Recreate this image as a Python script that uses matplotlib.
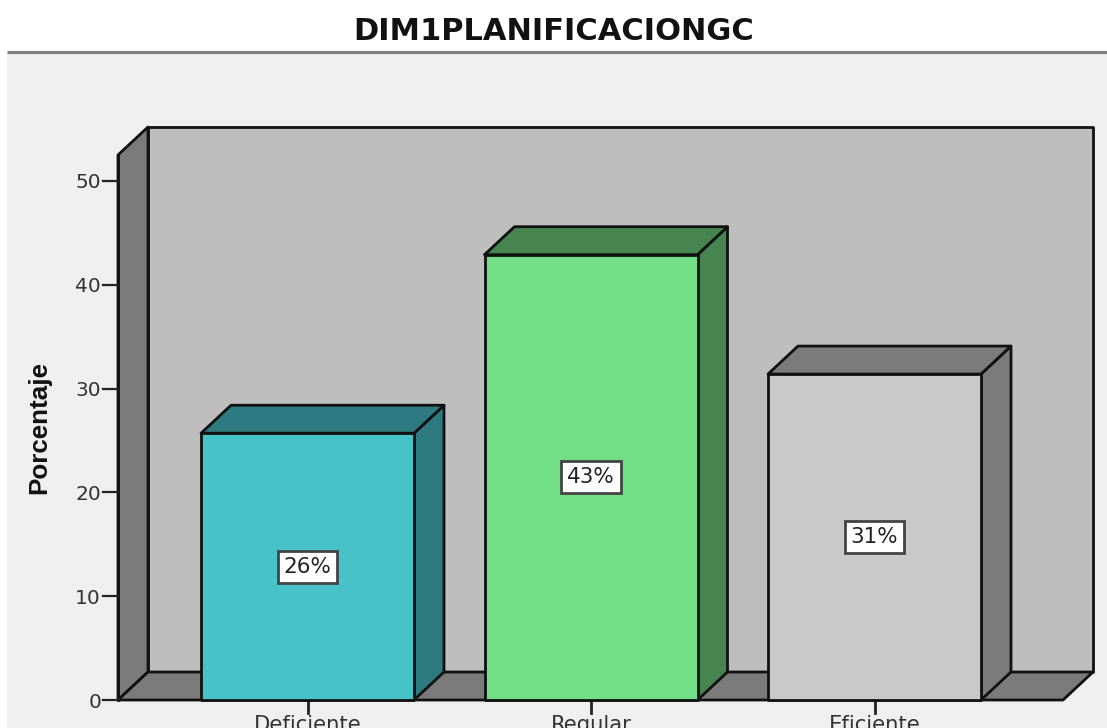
import matplotlib
matplotlib.use("Agg")
import matplotlib.pyplot as plt
from matplotlib.patches import Polygon, Rectangle

plt.rcParams['font.family'] = ['DejaVu Sans']

TITLE = "DIM1PLANIFICACIONGC"
categories = ["Deficiente", "Regular", "Eficiente"]
values = [25.7, 42.9, 31.4]
labels = ["26%", "43%", "31%"]
y_ticks = [0, 10, 20, 30, 40, 50]
front_colors = ["#48c2c9", "#72de86", "#c9c9c9"]
side_colors = ["#2d7a80", "#46854f", "#7b7b7b"]

W, H = 1107, 728
PX_X = 283.5      # pixels per category
PX_Y = 10.38      # pixels per value unit
X0_PX, Y0_PX = 307.5, 700
DX = 30 / PX_X
DY = 28 / PX_Y
BAR = 213 / PX_X

fig = plt.figure(figsize=(W / 100, H / 100), dpi=100, facecolor="white")
ax = fig.add_axes([0, 0, 1, 1])
xl = -X0_PX / PX_X
yb = -(H - Y0_PX) / PX_Y
ax.set_xlim(xl, xl + W / PX_X)
ax.set_ylim(yb, yb + H / PX_Y)
ax.axis("off")

def xp(px):
    return xl + px / PX_X
def yp(py):
    return (Y0_PX - py) / PX_Y

# panel background and header rule
ax.add_patch(Rectangle((xp(7), yb), (W - 7) / PX_X, (H - 52) / PX_Y, fc="#efefef", ec="none", zorder=0))
ax.plot([xp(7), xp(W)], [yp(52), yp(52)], color="#808080", lw=2.2, zorder=1, solid_capstyle="butt")
ax.text(xp(554), yp(31), TITLE, ha="center", va="center", fontsize=22, fontweight="bold", color="#111111")

# 3-D frame
lft, rgt = xp(118), xp(1063)
top = yp(155)
edge = dict(ec="#111111", lw=2.0, joinstyle="round")
ax.add_patch(Polygon([(lft + DX, DY), (rgt + DX, DY), (rgt + DX, top + DY), (lft + DX, top + DY)], fc="#bebebe", zorder=2, **edge))
ax.add_patch(Polygon([(lft, 0), (lft + DX, DY), (lft + DX, top + DY), (lft, top)], fc="#7b7b7b", zorder=3, **edge))
ax.add_patch(Polygon([(lft, 0), (rgt, 0), (rgt + DX, DY), (lft + DX, DY)], fc="#7b7b7b", zorder=3, **edge))

# y axis
ax.plot([lft, lft], [0, top], color="#111111", lw=2.0, zorder=4)
tick_len = 15 / PX_X
for t in y_ticks:
    ax.plot([lft - tick_len, lft], [t, t], color="#222222", lw=1.6, zorder=4)
    ax.text(xp(101), yp(Y0_PX - t * PX_Y + 2), str(t), ha="right", va="center", fontsize=14.5, color="#333333")
ax.text(xp(39), yp(428), "Porcentaje", rotation=90, ha="center", va="center", fontsize=18.7, fontweight="bold",
        family="Liberation Sans", color="#111111")

# bars
for i, (c, v, lb, fc, sc) in enumerate(zip(categories, values, labels, front_colors, side_colors)):
    x1, x2 = i - BAR / 2, i + BAR / 2
    ax.add_patch(Polygon([(x2, 0), (x2 + DX, DY), (x2 + DX, v + DY), (x2, v)], fc=sc, zorder=5, **edge))
    ax.add_patch(Polygon([(x1, v), (x2, v), (x2 + DX, v + DY), (x1 + DX, v + DY)], fc=sc, zorder=5, **edge))
    ax.add_patch(Rectangle((x1, 0), BAR, v, fc=fc, zorder=6, **edge))
    ax.text(i, v / 2, lb, ha="center", va="center", fontsize=15.5, color="#222222", zorder=7,
            bbox=dict(boxstyle="square,pad=0.28", fc="white", ec="#444444", lw=2))
    ax.plot([i, i], [0, yp(713)], color="#222222", lw=2, zorder=4)
    ax.text(i, yp(715), c, ha="center", va="top", fontsize=15.2, color="#333333", clip_on=True)

fig.savefig("out.png", dpi=100, facecolor="white")
